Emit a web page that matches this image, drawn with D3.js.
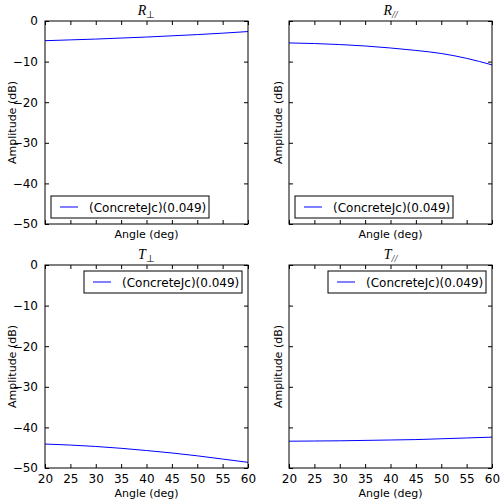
<!DOCTYPE html>
<html><head><meta charset="utf-8">
<script src="https://cdn.jsdelivr.net/npm/d3@7"></script>
<style>
body{margin:0;background:#fff;}
text{font-family:"DejaVu Sans",sans-serif;}
</style></head>
<body><svg id="c" width="504" height="504"></svg>
<script>
const angles = [20, 25, 30, 35, 40, 45, 50, 55, 60];
const rPerp = [-4.85, -4.65, -4.45, -4.2, -3.95, -3.65, -3.35, -3.0, -2.6];
const rPar = [-5.4, -5.55, -5.8, -6.15, -6.65, -7.25, -8.0, -9.2, -10.8];
const tPerp = [-44.1, -44.35, -44.7, -45.15, -45.7, -46.3, -47.0, -47.8, -48.6];
const tPar = [-43.4, -43.35, -43.3, -43.2, -43.1, -43.0, -42.8, -42.6, -42.4];
const xTicks = [20, 25, 30, 35, 40, 45, 50, 55, 60];
const yTicks = [0, -10, -20, -30, -40, -50];
const seriesName = "(ConcreteJc)(0.049)";
const titles = [["R", "\u22A5"], ["R", "//"], ["T", "\u22A5"], ["T", "//"]];

const svg = d3.select("#c");
const W = 203, H = 203;
const panels = [
  {x: 45, y: 21, data: rPerp, title: titles[0], yLab: true, xLab: false, leg: "bl"},
  {x: 289, y: 21, data: rPar, title: titles[1], yLab: false, xLab: false, leg: "bl"},
  {x: 45, y: 265, data: tPerp, title: titles[2], yLab: true, xLab: true, leg: "tr"},
  {x: 289, y: 265, data: tPar, title: titles[3], yLab: false, xLab: true, leg: "tr"}
];

panels.forEach(p => {
  const g = svg.append("g").attr("transform", `translate(${p.x},${p.y})`);
  const x = d3.scaleLinear().domain([20, 60]).range([0, W]);
  const y = d3.scaleLinear().domain([-50, 0]).range([H, 0]);

  const line = d3.line().x((d, i) => x(angles[i])).y(d => y(d)).curve(d3.curveMonotoneX);
  g.append("path").datum(p.data).attr("d", line).attr("fill", "none").attr("stroke", "#0000ff").attr("stroke-width", 1);

  const ax = (axis, tr) => {
    const a = g.append("g").attr("transform", tr).call(axis);
    a.select(".domain").remove();
    a.selectAll("line").attr("stroke", "#000");
    a.selectAll("text").attr("font-size", 12).attr("fill", "#000");
    return a;
  };
  const fmt = d => d < 0 ? "\u2212" + Math.abs(d) : d;
  ax(d3.axisBottom(x).tickValues(xTicks).tickSizeInner(-4).tickSizeOuter(0).tickPadding(6)
     .tickFormat(p.xLab ? fmt : () => ""), `translate(0,${H})`);
  ax(d3.axisTop(x).tickValues(xTicks).tickSizeInner(-4).tickSizeOuter(0).tickFormat(() => ""), "translate(0,0)");
  ax(d3.axisLeft(y).tickValues(yTicks).tickSizeInner(-4).tickSizeOuter(0).tickPadding(7)
     .tickFormat(p.yLab ? fmt : () => ""), "translate(0,0)");
  ax(d3.axisRight(y).tickValues(yTicks).tickSizeInner(-4).tickSizeOuter(0).tickFormat(() => ""), `translate(${W},0)`);

  g.append("rect").attr("width", W).attr("height", H).attr("fill", "none").attr("stroke", "#000").attr("stroke-width", 1);

  g.append("text").attr("x", W / 2).attr("y", p.xLab ? H + 29 : H + 14).attr("text-anchor", "middle")
    .attr("font-size", 11).text("Angle (deg)");
  g.append("text").attr("transform", `translate(${p.yLab ? -29 : -7},${H / 2}) rotate(-90)`).attr("text-anchor", "middle")
    .attr("font-size", 11).text("Amplitude (dB)");

  const t = g.append("text").attr("x", W / 2).attr("y", -6).attr("text-anchor", "middle")
    .style("font-family", "'Liberation Serif', serif").attr("font-size", 14);
  t.append("tspan").attr("font-style", "italic").text(p.title[0]);
  t.append("tspan").attr("font-size", 10).attr("dy", 3)
    .attr("font-style", p.title[1] === "//" ? "italic" : "normal").text(p.title[1]);

  const lw = 158, lh = 22;
  const lx = p.leg === "bl" ? 6 : W - 6 - lw;
  const ly = p.leg === "bl" ? H - 6 - lh : 6;
  const lg = g.append("g").attr("transform", `translate(${lx},${ly})`);
  lg.append("rect").attr("width", lw).attr("height", lh).attr("fill", "#fff").attr("stroke", "#000").attr("stroke-width", 1);
  lg.append("line").attr("x1", 9).attr("x2", 27).attr("y1", lh / 2).attr("y2", lh / 2).attr("stroke", "#0000ff");
  lg.append("text").attr("x", 38).attr("y", lh / 2 + 4.5).attr("font-size", 12).text(seriesName);
});
</script></body></html>
